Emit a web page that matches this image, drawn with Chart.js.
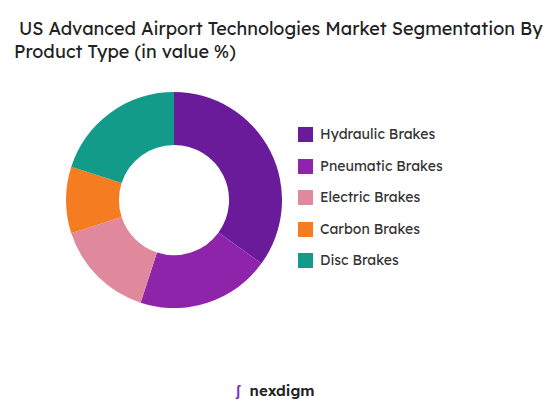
<!DOCTYPE html>
<html><head><meta charset="utf-8">
<script src="https://cdn.jsdelivr.net/npm/chart.js@4"></script>
<style>
body{margin:0;width:549px;height:405px;background:#fff;font-family:Lexend,"Noto Sans",sans-serif;position:relative;overflow:hidden}
#title{position:absolute;left:14px;top:17px;font-size:18px;line-height:23px;color:#222;white-space:nowrap}
#wrap{position:absolute;left:66px;top:92px;width:216px;height:216px}
#legend{position:absolute;left:298px;top:125px;font-size:14px;color:#333}
.li{height:31.5px;display:flex;align-items:flex-start}
.sw{width:15px;height:15px;margin-right:7px;margin-top:2px}
#logo{position:absolute;left:236px;top:380px;font-size:15px;color:#222;font-weight:600}
#logo span{color:#7b2cbf}
</style></head><body>
<div id="title">&nbsp;US Advanced Airport Technologies Market Segmentation By<br>Product Type (in value %)</div>
<div id="wrap"><canvas id="c"></canvas></div>
<div id="legend"></div>
<div id="logo"><span>ʃ</span>&nbsp;&nbsp;nexdigm</div>
<script>
const categories=["Hydraulic Brakes","Pneumatic Brakes","Electric Brakes","Carbon Brakes","Disc Brakes"];
const values=[35,20,15,10,20];
const colors=["#6a1b9a","#8e24aa","#e0889c","#f57c20","#139b8a"];
new Chart(document.getElementById('c'),{type:'doughnut',
data:{labels:categories,datasets:[{data:values,backgroundColor:colors,borderWidth:0}]},
options:{responsive:true,maintainAspectRatio:false,cutout:'51%',animation:false,
plugins:{legend:{display:false},tooltip:{enabled:false}}}});
const lg=document.getElementById('legend');
categories.forEach((c,i)=>{lg.innerHTML+=`<div class="li"><div class="sw" style="background:${colors[i]}"></div>${c}</div>`;});
</script></body></html>
